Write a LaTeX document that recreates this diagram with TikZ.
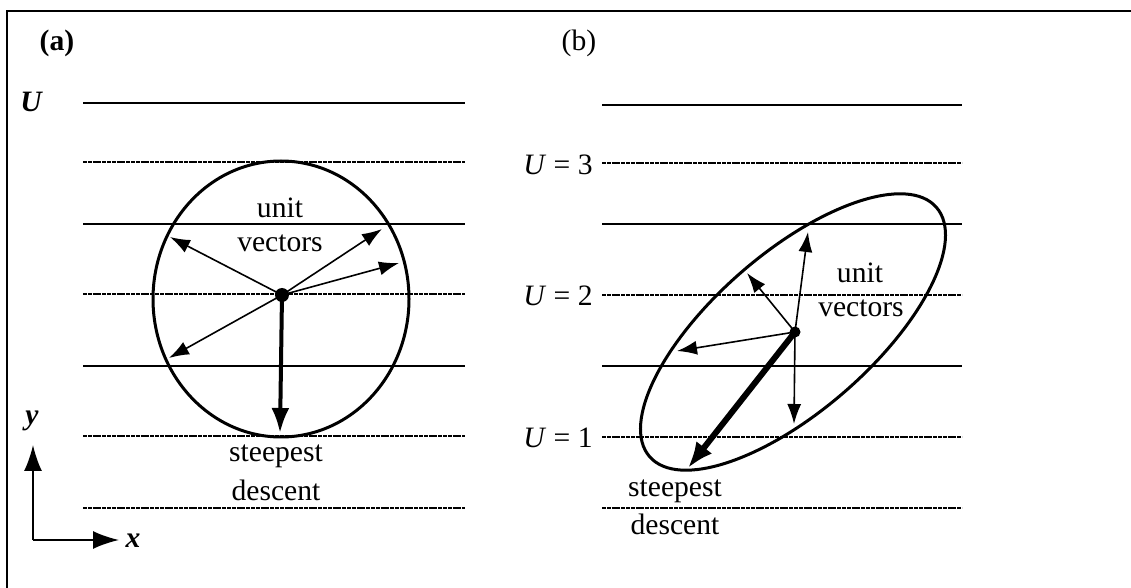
\documentclass[tikz,border=0pt]{standalone}
\usepackage{fontspec}
\setmainfont{Liberation Serif}
\usetikzlibrary{arrows.meta}
\tikzset{
  lvl/.style={line width=0.7pt},
  lvldot/.style={line width=0.6pt, dash pattern=on 2pt off 0.4pt},
  curve/.style={line width=1.5pt},
  thinarr/.style={line width=0.8pt, -{Latex[length=10pt,width=7pt]}},
  thickarrA/.style={line width=2pt, -{Latex[length=12.5pt,width=9pt]}},
  thickarrB/.style={line width=3pt, -{Latex[length=13pt,width=10pt]}},
  axisarr/.style={line width=1pt, -{Latex[length=13pt,width=9pt]}},
  dot/.style={circle, fill=black, inner sep=0pt, minimum size=#1},
  lbl/.style={inner sep=0pt, font=\fontsize{14.8}{17}\selectfont},
}
\begin{document}
\begin{tikzpicture}[x=0.5pt, y=-0.5pt]
\useasboundingbox (0,0) rectangle (1131,588);
% frame (only top and left visible)
\draw[line width=1pt] (7,588) -- (7,11) -- (1131,11);

% ---------------- panel (a) ----------------
\node[lbl, font=\fontsize{14.8}{17}\selectfont\bfseries] (la) at (57,43) {(a)};
\node[lbl, font=\fontsize{14.8}{17}\selectfont\bfseries\itshape] (Ua) at (31,102) {U};
\draw[lvl]    (83,103) -- (465,103);
\draw[lvldot] (83,162) -- (465,162);
\draw[lvl]    (83,224) -- (465,224);
\draw[lvldot] (83,294) -- (465,294);
\draw[lvl]    (83,366) -- (465,366);
\draw[lvldot] (83,436) -- (465,436);
\draw[lvldot] (83,508) -- (465,508);

\draw[curve] (281,299) ellipse [x radius=128, y radius=138];
\node[dot=7pt] (ca) at (282,295) {};
\coordinate (a1) at (170,237);
\coordinate (a2) at (382,229);
\coordinate (a3) at (399,263);
\coordinate (a4) at (169,358);
\coordinate (a5) at (280,433);
\draw[thinarr] (ca.center) -- (a1);
\draw[thinarr] (ca.center) -- (a2);
\draw[thinarr] (ca.center) -- (a3);
\draw[thinarr] (ca.center) -- (a4);
\draw[thickarrA] (ca.center) -- (a5);
\node[lbl] (uva) at (280,208) {unit};
\node[lbl] (vva) at (280,243) {vectors};
\node[lbl] (sda) at (276,456) {steepest};
\node[lbl] (dda) at (276,490) {descent};

% axes
\coordinate (o) at (33,540);
\coordinate (ytip) at (33,445);
\coordinate (xtip) at (119,540);
\draw[axisarr] (o) -- (ytip);
\draw[axisarr] (o) -- (xtip);
\node[lbl, font=\fontsize{14.8}{17}\selectfont\bfseries\itshape] (ly) at (32,421) {y};
\node[lbl, font=\fontsize{14.8}{17}\selectfont\bfseries\itshape] (lx) at (133,541) {x};

% ---------------- panel (b) ----------------
\node[lbl] (lb) at (579,43) {(b)};
\draw[lvl]    (602,105) -- (962,105);
\draw[lvldot] (602,163) -- (962,163);
\draw[lvl]    (602,224) -- (962,224);
\draw[lvldot] (602,295) -- (962,295);
\draw[lvl]    (602,366) -- (962,366);
\draw[lvldot] (602,437) -- (962,437);
\draw[lvldot] (602,508) -- (962,508);
\node[lbl, anchor=east] (U3) at (593,165) {\textit{U} = 3};
\node[lbl, anchor=east] (U2) at (593,296) {\textit{U} = 2};
\node[lbl, anchor=east] (U1) at (593,438) {\textit{U} = 1};

\draw[curve, rotate around={41:(793,332)}] (793,332) ellipse [x radius=190, y radius=79];
\node[dot=5.5pt] (cb) at (795,332) {};
\coordinate (b1) at (808,232);
\coordinate (b2) at (747,273);
\coordinate (b3) at (677,351);
\coordinate (b4) at (794,424);
\coordinate (b5) at (688,468);
\draw[thinarr] (cb.center) -- (b1);
\draw[thinarr] (cb.center) -- (b2);
\draw[thinarr] (cb.center) -- (b3);
\draw[thinarr] (cb.center) -- (b4);
\draw[thickarrB] (cb.center) -- (b5);
\node[lbl] (uvb) at (860,273) {unit};
\node[lbl] (vvb) at (861,308) {vectors};
\node[lbl] (sdb) at (675,491) {steepest};
\node[lbl] (ddb) at (675,524) {descent};
\end{tikzpicture}
\end{document}
